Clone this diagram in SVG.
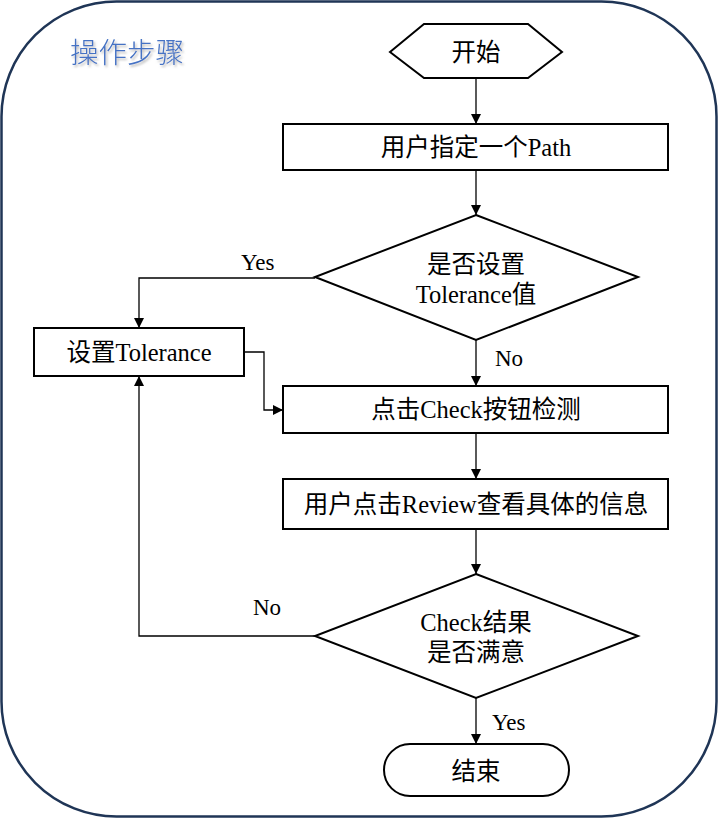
<svg xmlns="http://www.w3.org/2000/svg" width="718" height="819" viewBox="0 0 718 819">
<defs>
<marker id="arr" viewBox="0 0 10 10" refX="10" refY="5" markerWidth="10" markerHeight="10" markerUnits="userSpaceOnUse" orient="auto">
<path d="M0,0 L10,5 L0,10 Z" fill="#000"/>
</marker>
<filter id="sh" x="-10%" y="-10%" width="130%" height="140%">
<feDropShadow dx="1.5" dy="2" stdDeviation="1.2" flood-color="#888" flood-opacity="0.6"/>
</filter>
</defs>
<style>
.node{fill:#fff;stroke:#000;stroke-width:2}
.t{font-family:"Liberation Serif","Noto Sans CJK SC",serif;font-size:24.5px;fill:#000;text-anchor:middle;dominant-baseline:central}
.lbl{font-family:"Liberation Serif","Noto Sans CJK SC",serif;font-size:23px;fill:#000;dominant-baseline:central}
.c{fill:none;stroke:#000;stroke-width:1.3}
</style>
<rect x="1.5" y="1.5" width="715" height="815" rx="115" ry="115" fill="#fff" stroke="#1f3556" stroke-width="2.5"/>
<text x="70" y="50" font-family="'Noto Sans CJK SC',sans-serif" font-size="28.5" font-weight="300" fill="#4472c4" dominant-baseline="central" filter="url(#sh)">操作步骤</text>

<g id="connectors">
<line class="c" x1="476" y1="78" x2="476" y2="124" marker-end="url(#arr)"/>
<line class="c" x1="476" y1="170" x2="476" y2="215" marker-end="url(#arr)"/>
<polyline class="c" points="315,278 139,278 139,328" marker-end="url(#arr)"/>
<line class="c" x1="476" y1="340" x2="476" y2="386" marker-end="url(#arr)"/>
<polyline class="c" points="244,352 264,352 264,410 283,410" stroke="#777" marker-end="url(#arr)"/>
<line class="c" x1="476" y1="433" x2="476" y2="479" stroke-width="2.5" marker-end="url(#arr)"/>
<line class="c" x1="476" y1="529" x2="476" y2="574" marker-end="url(#arr)"/>
<polyline class="c" points="315,636 139,636 139,376" marker-end="url(#arr)"/>
<line class="c" x1="476" y1="698" x2="476" y2="744" marker-end="url(#arr)"/>
<text class="lbl" x="241" y="262">Yes</text>
<text class="lbl" x="495" y="358">No</text>
<text class="lbl" x="253" y="607">No</text>
<text class="lbl" x="492" y="722">Yes</text>
</g>

<g id="start">
<polygon class="node" points="390,52 424,24 528,24 562,52 528,78 424,78"/>
<text class="t" x="476" y="52">开始</text>
</g>
<g id="specify-path">
<rect class="node" x="283" y="124" width="385" height="46"/>
<text class="t" x="476" y="147">用户指定一个Path</text>
</g>
<g id="set-tolerance-q">
<polygon class="node" points="476,215 638,277 476,340 315,277"/>
<text class="t" x="476" y="264">是否设置</text>
<text class="t" x="476" y="294">Tolerance值</text>
</g>
<g id="set-tolerance">
<rect class="node" x="34" y="328" width="210" height="48"/>
<text class="t" x="139" y="352">设置Tolerance</text>
</g>
<g id="check">
<rect class="node" x="283" y="386" width="385" height="47"/>
<text class="t" x="476" y="409">点击Check按钮检测</text>
</g>
<g id="review">
<rect class="node" x="283" y="479" width="385" height="50"/>
<text class="t" x="476" y="504">用户点击Review查看具体的信息</text>
</g>
<g id="result-q">
<polygon class="node" points="476,574 638,636 476,698 315,636"/>
<text class="t" x="476" y="622">Check结果</text>
<text class="t" x="476" y="652">是否满意</text>
</g>
<g id="end">
<rect class="node" x="384" y="744" width="185" height="52" rx="26" ry="26"/>
<text class="t" x="476" y="771">结束</text>
</g>
</svg>
